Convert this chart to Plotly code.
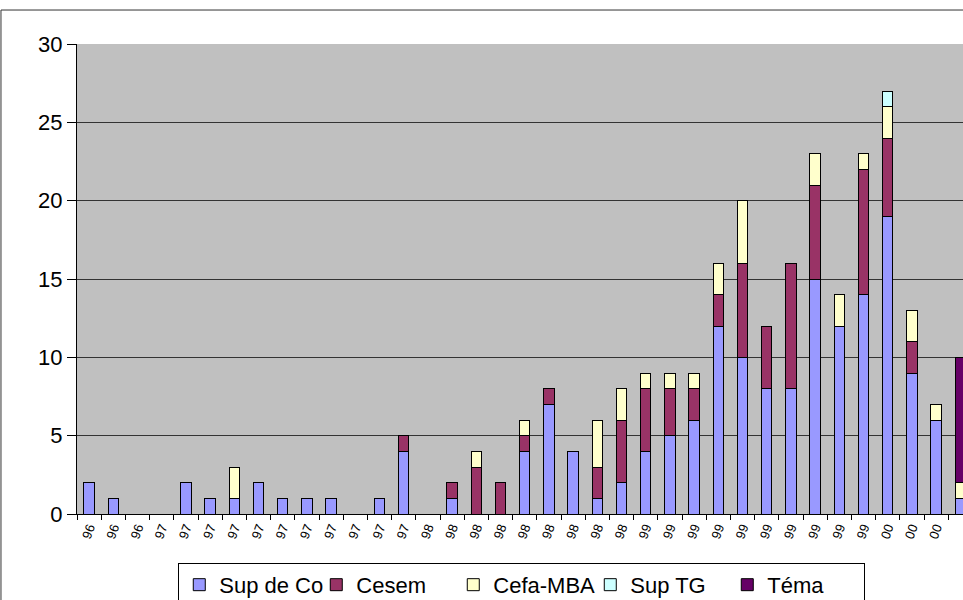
import plotly.graph_objects as go

# Category tick labels (year suffixes, labels in the reference are barely legible)
labels = ["96", "96", "96",
          "97", "97", "97", "97", "97", "97", "97", "97", "97", "97", "97",
          "98", "98", "98", "98", "98", "98", "98", "98", "98",
          "99", "99", "99", "99", "99", "99", "99", "99", "99", "99",
          "00", "00", "00", "00"]

sup_de_co = [2, 1, 0, 0, 2, 1, 1, 2, 1, 1, 1, 0, 1, 4, 0, 1, 0, 0, 4, 7, 4, 1, 2, 4, 5, 6,
             12, 10, 8, 8, 15, 12, 14, 19, 9, 6, 1]
cesem = [0, 0, 0, 0, 0, 0, 0, 0, 0, 0, 0, 0, 0, 1, 0, 1, 3, 2, 1, 1, 0, 2, 4, 4, 3, 2,
         2, 6, 4, 8, 6, 0, 8, 5, 2, 0, 0]
cefa_mba = [0, 0, 0, 0, 0, 0, 2, 0, 0, 0, 0, 0, 0, 0, 0, 0, 1, 0, 1, 0, 0, 3, 2, 1, 1, 1,
            2, 4, 0, 0, 2, 2, 1, 2, 2, 1, 1]
sup_tg = [0] * 33 + [1, 0, 0, 0]
tema = [0] * 36 + [8]

series = [
    ("Sup de Co", sup_de_co, "#9999FF"),
    ("Cesem", cesem, "#993366"),
    ("Cefa-MBA", cefa_mba, "#FFFFCC"),
    ("Sup TG", sup_tg, "#CCFFFF"),
    ("Téma", tema, "#660066"),
]

xs = list(range(len(labels)))
FONT = "Arial, 'Liberation Sans', sans-serif"

fig = go.Figure()
for name, vals, color in series:
    fig.add_trace(go.Bar(
        x=xs, y=[v if v else None for v in vals], name=name,
        marker=dict(color=color, line=dict(color="#000000", width=1)),
    ))

fig.update_layout(
    width=963, height=600,
    barmode="stack", bargap=0.57,
    paper_bgcolor="white", plot_bgcolor="#C0C0C0",
    margin=dict(l=77, r=0, t=44, b=86, autoexpand=False),
    font=dict(family=FONT, color="black", size=22),
    showlegend=True,
    legend=dict(orientation="h", x=0.502, xanchor="center", y=-0.104, yanchor="top",
                bordercolor="#000000", borderwidth=1, bgcolor="white",
                font=dict(size=22, family=FONT), itemwidth=30, traceorder="normal",
                entrywidth=92, entrywidthmode="pixels"),
    xaxis=dict(range=[-0.5, 36.11], tickmode="array", tickvals=xs, ticktext=labels,
               tickangle=-70, tickfont=dict(size=13), ticks="outside", ticklen=0,
               showline=True, linecolor="#000000", linewidth=1, showgrid=False,
               zeroline=False, automargin=False,
               minor=dict(tick0=-0.5, dtick=1, ticks="outside", ticklen=5,
                          tickcolor="#000000", showgrid=False)),
    yaxis=dict(range=[0, 30], dtick=5, showgrid=True, gridcolor="#333333", gridwidth=1,
               ticks="outside", ticklen=9, tickcolor="#000000", showline=True,
               linecolor="#000000", linewidth=1, zeroline=False, automargin=False,
               tickfont=dict(size=22)),
)

# outer chart-area border (cropped on the right and bottom in the reference)
fig.add_shape(type="rect", xref="paper", yref="paper",
              x0=-0.0858, x1=1.05, y0=-0.4, y1=1.0723,
              line=dict(color="#333333", width=1), fillcolor="rgba(0,0,0,0)", layer="below")

fig.write_html("out.html", config={"displayModeBar": False},
               post_script="document.body.style.margin='0';")
